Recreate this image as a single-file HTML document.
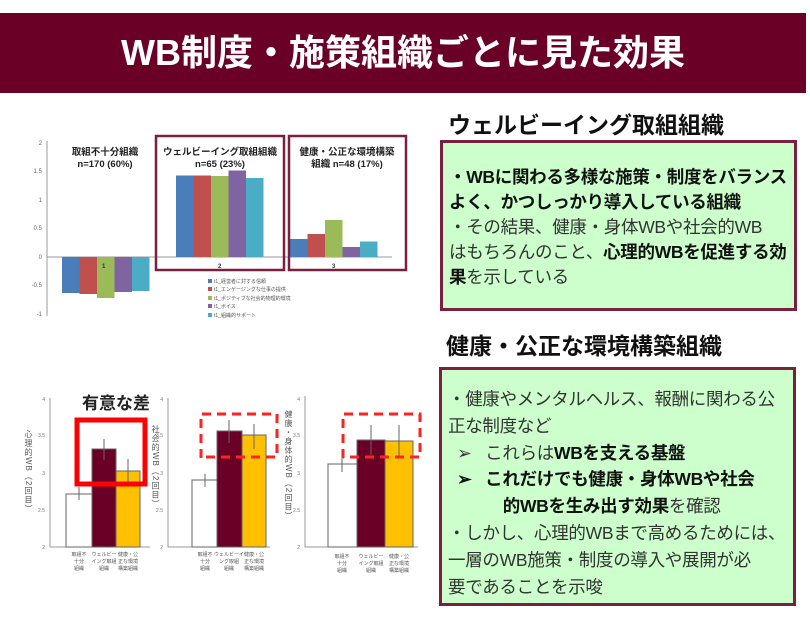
<!DOCTYPE html>
<html><head><meta charset="utf-8"><style>
html,body{margin:0;padding:0;background:#fff;width:810px;height:620px;overflow:hidden;font-family:"Liberation Sans","Noto Sans CJK JP",sans-serif;}
.banner{position:absolute;left:0;top:13px;width:806px;height:80px;background:#6b0026;color:#fff;font-weight:bold;font-size:36px;text-align:center;line-height:80px;}
.h{position:absolute;font-weight:bold;font-size:23px;color:#111;white-space:nowrap;}
.box{position:absolute;background:#ccffcc;border:3px solid #7a1f3d;box-sizing:border-box;padding:0 0 0 6px;font-size:17.5px;color:#333;line-height:25px;white-space:nowrap;letter-spacing:-0.3px;}
.box b{color:#111;}
.vt{position:absolute;writing-mode:vertical-rl;font-size:8px;color:#555;letter-spacing:1px;white-space:nowrap;}
</style></head><body>
<div class="banner">WB制度・施策組織ごとに見た効果</div>
<div class="h" style="left:448px;top:106px;">ウェルビーイング取組組織</div>
<div class="box" style="left:440px;top:140px;width:357px;height:171px;padding-top:22px;">
<b>・WBに関わる多様な施策・制度をバランス<br>よく、かつしっかり導入している組織</b><br>・その結果、健康・身体WBや社会的WB<br>はもちろんのこと、<b>心理的WBを促進する効<br>果</b>を示している</div>
<div class="h" style="left:446px;top:327px;">健康・公正な環境構築組織</div>
<div class="box" style="left:439px;top:367px;width:357px;height:239px;padding-top:16px;line-height:26.8px;">
・健康やメンタルヘルス、報酬に関わる公<br>正な制度など<br>
&nbsp;&nbsp;➢&nbsp;&nbsp; これらは<b>WBを支える基盤</b><br>
<b>&nbsp;&nbsp;➢&nbsp;&nbsp; これだけでも健康・身体WBや社会<br>&nbsp;&nbsp;&nbsp;&nbsp;&nbsp;&nbsp;&nbsp;&nbsp;&nbsp;&nbsp;&nbsp;&nbsp;的WBを生み出す効果</b>を確認<br>
・しかし、心理的WBまで高めるためには、<br>一層のWB施策・制度の導入や展開が必<br>要であることを示唆</div>

<div class="vt" style="left:23px;top:430px;">心理的WB（2回目）</div>
<div class="vt" style="left:150px;top:425px;">社会的WB（2回目）</div>
<div class="vt" style="left:283px;top:410px;">健康・身体的WB（2回目）</div>

<svg width="440" height="620" style="position:absolute;left:0;top:0" font-family="Liberation Sans,Noto Sans CJK JP,sans-serif">
<g font-size="6" fill="#666" text-anchor="end">
<text x="42" y="145">2</text><text x="42" y="173">1.5</text><text x="42" y="202">1</text><text x="42" y="230">0.5</text><text x="42" y="259">0</text><text x="42" y="287">-0.5</text><text x="42" y="316">-1</text>
</g>
<line x1="47" y1="141" x2="47" y2="316" stroke="#999"/>
<line x1="47" y1="257" x2="392" y2="257" stroke="#999"/>
<rect x="62" y="257" width="17.5" height="36" fill="#4a7ebb"/>
<rect x="79.5" y="257" width="17.5" height="37" fill="#c0504d"/>
<rect x="97" y="257" width="17.5" height="41" fill="#9bbb59"/>
<rect x="114.5" y="257" width="17.5" height="35" fill="#8064a2"/>
<rect x="132" y="257" width="17.5" height="34" fill="#4bacc6"/>
<rect x="176" y="175.5" width="17.5" height="81.5" fill="#4a7ebb"/>
<rect x="193.5" y="175.5" width="17.5" height="81.5" fill="#c0504d"/>
<rect x="211" y="176" width="17.5" height="81" fill="#9bbb59"/>
<rect x="228.5" y="170.5" width="17.5" height="86.5" fill="#8064a2"/>
<rect x="246" y="178" width="17.5" height="79" fill="#4bacc6"/>
<rect x="290" y="239" width="17.5" height="18" fill="#4a7ebb"/>
<rect x="307.5" y="234" width="17.5" height="23" fill="#c0504d"/>
<rect x="325" y="220" width="17.5" height="37" fill="#9bbb59"/>
<rect x="342.5" y="247" width="17.5" height="10" fill="#8064a2"/>
<rect x="360" y="241.5" width="17.5" height="15.5" fill="#4bacc6"/>
<rect x="156" y="136" width="128" height="134" fill="none" stroke="#7a1f3d" stroke-width="2.5"/>
<rect x="289" y="136" width="117" height="134" fill="none" stroke="#7a1f3d" stroke-width="2.5"/>
<g font-size="6" fill="#333" font-weight="bold"><text x="102" y="268">1</text><text x="218" y="268">2</text><text x="332" y="268">3</text></g>
<g font-weight="bold" font-size="9.5" fill="#222" text-anchor="middle">
<text x="105" y="155">取組不十分組織</text>
<text x="105" y="167">n=170 (60%)</text>
<text x="220" y="155">ウェルビーイング取組組織</text>
<text x="220" y="167">n=65 (23%)</text>
<text x="347" y="155">健康・公正な環境構築</text>
<text x="347" y="167">組織 n=48 (17%)</text>
</g>
<g font-size="5" fill="#555">
<rect x="208" y="279" width="4" height="4" fill="#4a7ebb"/><text x="214" y="283">t1_経営者に対する信頼</text>
<rect x="208" y="287" width="4" height="4" fill="#c0504d"/><text x="214" y="291">t1_エンゲージングな仕事の提供</text>
<rect x="208" y="296" width="4" height="4" fill="#9bbb59"/><text x="214" y="300">t1_ポジティブな社会的物理的環境</text>
<rect x="208" y="304" width="4" height="4" fill="#8064a2"/><text x="214" y="308">t1_ボイス</text>
<rect x="208" y="313" width="4" height="4" fill="#4bacc6"/><text x="214" y="317">t1_組織的サポート</text>
</g>

<g font-size="5" fill="#777" text-anchor="end">
<text x="45" y="401">4</text><text x="45" y="437">3.5</text><text x="45" y="475">3</text><text x="45" y="512">2.5</text><text x="45" y="549">2</text>
<text x="163" y="401">4</text><text x="163" y="437">3.5</text><text x="163" y="475">3</text><text x="163" y="512">2.5</text><text x="163" y="549">2</text>
<text x="300" y="401">4</text><text x="300" y="437">3.5</text><text x="300" y="475">3</text><text x="300" y="512">2.5</text><text x="300" y="549">2</text>
</g>
<g stroke="#999" fill="none">
<path d="M50 398V547H150"/><path d="M168 398V547H270"/><path d="M305 396V547H418"/>
</g>
<g stroke="#666" stroke-width="1">
<rect x="66" y="494" width="26" height="53" fill="#fff"/>
<rect x="92" y="449" width="24" height="98" fill="#6b0026"/>
<rect x="116" y="471" width="24" height="76" fill="#ffc000"/>
<rect x="192" y="480" width="25" height="67" fill="#fff"/>
<rect x="217" y="431" width="25" height="116" fill="#6b0026"/>
<rect x="242" y="435" width="24" height="112" fill="#ffc000"/>
<rect x="328" y="464" width="29" height="83" fill="#fff"/>
<rect x="357" y="440" width="28" height="107" fill="#6b0026"/>
<rect x="385" y="441" width="28" height="106" fill="#ffc000"/>
<path d="M79 487V500M104 439V460M128 459V483M205 474V487M229 420V443M254 424V449M342 457V472M371 425V455M399 425V458"/>
</g>
<rect x="77" y="420" width="68" height="64" fill="none" stroke="#ff0000" stroke-width="5"/>
<g fill="none" stroke="#ff2222" stroke-width="3" stroke-dasharray="9,6">
<path d="M201 458V414H277V457H200"/>
<path d="M343 458V414H420V457H343"/>
</g>
<text x="82" y="409" font-size="17" font-weight="bold" fill="#222">有意な差</text>
<g font-size="5" fill="#555" text-anchor="middle">
<text x="79" y="556">取組不</text><text x="79" y="563">十分</text><text x="79" y="570">組織</text>
<text x="104" y="556">ウェルビー</text><text x="104" y="563">イング取組</text><text x="104" y="570">組織</text>
<text x="128" y="556">健康・公</text><text x="128" y="563">正な環境</text><text x="128" y="570">構築組織</text>
<text x="205" y="556">取組不</text><text x="205" y="563">十分</text><text x="205" y="570">組織</text>
<text x="229" y="556">ウェルビーイ</text><text x="229" y="563">ング取組</text><text x="229" y="570">組織</text>
<text x="254" y="556">健康・公</text><text x="254" y="563">正な環境</text><text x="254" y="570">構築組織</text>
<text x="342" y="558">取組不</text><text x="342" y="565">十分</text><text x="342" y="572">組織</text>
<text x="371" y="558">ウェルビー</text><text x="371" y="565">イング取組</text><text x="371" y="572">組織</text>
<text x="399" y="558">健康・公</text><text x="399" y="565">正な環境</text><text x="399" y="572">構築組織</text>
</g>
</svg>
</body></html>
